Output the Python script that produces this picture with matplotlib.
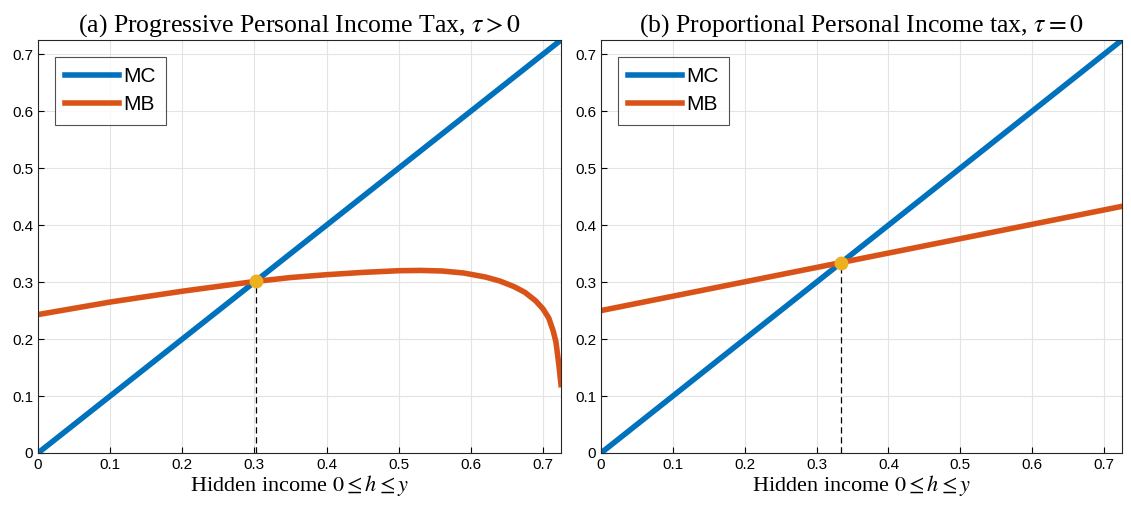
import matplotlib
matplotlib.use("Agg")
import matplotlib.pyplot as plt

plt.rcParams['mathtext.fontset'] = 'stix'
plt.rcParams['font.family'] = 'Liberation Sans'

# Panel (a)
mc_x = [0.0, 0.725]
mc_y = [0.0, 0.725]
mb_a_x = [0.0, 0.1, 0.2, 0.3, 0.35, 0.4, 0.45, 0.5, 0.53, 0.56, 0.59, 0.62, 0.64, 0.66, 0.675, 0.69, 0.70, 0.708, 0.714, 0.718, 0.722, 0.725]
mb_a_y = [0.243, 0.265, 0.284, 0.301, 0.308, 0.313, 0.317, 0.320, 0.3205, 0.3195, 0.316, 0.309, 0.302, 0.292, 0.282, 0.267, 0.253, 0.237, 0.215, 0.195, 0.155, 0.120]
eq_a = (0.302, 0.302)
# Panel (b)
mb_b_x = [0.0, 0.725]
mb_b_y = [0.25, 0.433]
eq_b = (0.334, 0.334)

titles = [r"(a) Progressive Personal Income Tax, $\tau > 0$",
          r"(b) Proportional Personal Income tax, $\tau = 0$"]
xlabel = r"Hidden income $0 \leq h \leq y$"
xticks = [0, 0.1, 0.2, 0.3, 0.4, 0.5, 0.6, 0.7]
yticks = [0, 0.1, 0.2, 0.3, 0.4, 0.5, 0.6, 0.7]

blue = '#0072BD'
orange = '#D95319'
gold = '#EDB120'

fig = plt.figure(figsize=(11.31, 5.14), dpi=100)
axes = [fig.add_axes([38/1131, 61/514, 523/1131, 413/514]),
        fig.add_axes([601/1131, 61/514, 521/1131, 413/514])]
data = [(mb_a_x, mb_a_y, eq_a), (mb_b_x, mb_b_y, eq_b)]
for ax, (bx, by, eq), t in zip(axes, data, titles):
    ax.plot(mc_x, mc_y, color=blue, lw=4, label='MC')
    ax.plot(bx, by, color=orange, lw=4, label='MB', solid_joinstyle='round')
    ax.plot([eq[0], eq[0]], [0, eq[1]], 'k--', lw=0.9, dashes=(5, 3))
    ax.plot([eq[0]], [eq[1]], 'o', color=gold, ms=9, zorder=5)
    ax.set_xlim(0, 0.725)
    ax.set_ylim(0, 0.725)
    ax.set_xticks(xticks)
    ax.set_xticklabels([f"{v:g}" for v in xticks])
    ax.set_yticks(yticks)
    ax.set_yticklabels([f"{v:g}" for v in yticks])
    ax.tick_params(labelsize=11, direction='in', length=4)
    ax.grid(True, color='#e3e3e3', lw=0.8)
    ax.set_axisbelow(True)
    for s in ax.spines.values():
        s.set_color('#262626')
        s.set_linewidth(0.8)
    ax.set_title(t, fontsize=18.5, family='Liberation Serif', pad=6)
    ax.set_xlabel(xlabel, fontsize=16, family='Liberation Serif', labelpad=1)
    leg = ax.legend(loc='upper left', fontsize=15, handlelength=2.6, fancybox=False,
                    edgecolor='#262626', borderaxespad=0.8, labelspacing=0.45,
                    handletextpad=0.2, borderpad=0.5)
    leg.get_frame().set_linewidth(0.8)

fig.savefig('out.png', dpi=100)
